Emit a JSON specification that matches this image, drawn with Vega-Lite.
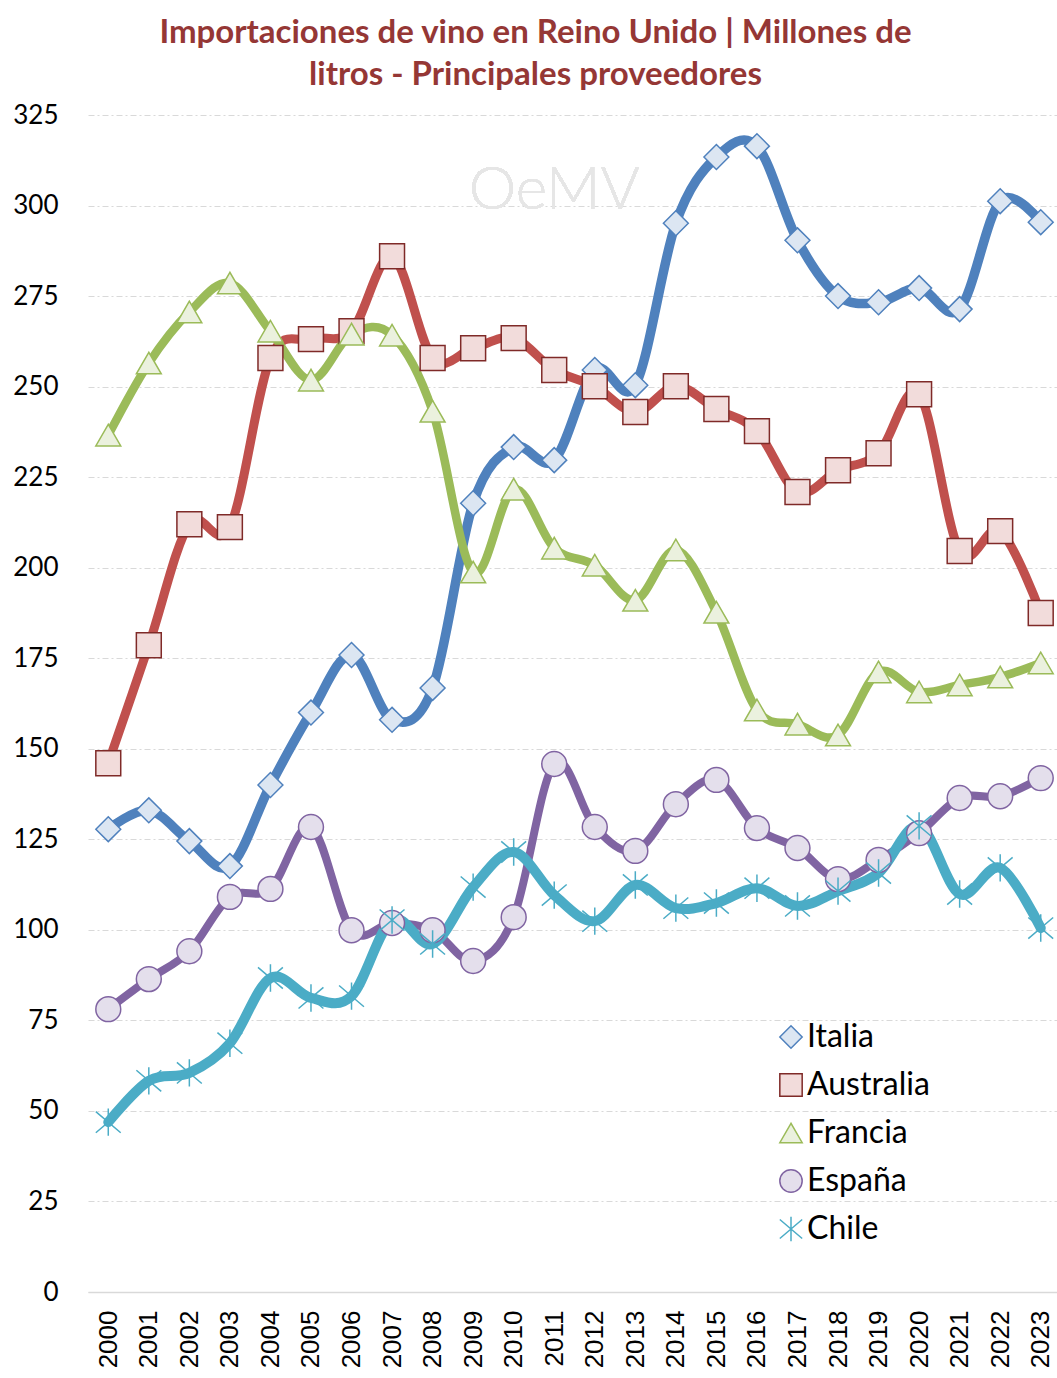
{
  "$schema": "https://vega.github.io/schema/vega-lite/v6.json",
  "autosize": "none",
  "width": 973,
  "height": 1177,
  "padding": {"left": 88, "top": 115, "right": 0, "bottom": 86},
  "background": "white",
  "title": {
    "text": ["Importaciones de vino en Reino Unido | Millones de", "litros - Principales proveedores"],
    "font": "Lato",
    "fontSize": 33,
    "fontWeight": "bold",
    "color": "#953735",
    "lineHeight": 42,
    "anchor": "middle",
    "frame": "group",
    "dx": -39,
    "offset": 10
  },
  "config": {
    "view": {"stroke": null},
    "font": "Lato"
  },
  "datasets": {
    "imp": [
      {"year": "2000", "country": "Italia", "value": 127.8},
      {"year": "2001", "country": "Italia", "value": 133},
      {"year": "2002", "country": "Italia", "value": 124.5},
      {"year": "2003", "country": "Italia", "value": 117.6},
      {"year": "2004", "country": "Italia", "value": 140},
      {"year": "2005", "country": "Italia", "value": 160},
      {"year": "2006", "country": "Italia", "value": 175.9},
      {"year": "2007", "country": "Italia", "value": 158},
      {"year": "2008", "country": "Italia", "value": 166.8},
      {"year": "2009", "country": "Italia", "value": 217.8},
      {"year": "2010", "country": "Italia", "value": 233.3},
      {"year": "2011", "country": "Italia", "value": 229.7},
      {"year": "2012", "country": "Italia", "value": 254.6},
      {"year": "2013", "country": "Italia", "value": 250.4},
      {"year": "2014", "country": "Italia", "value": 295.1},
      {"year": "2015", "country": "Italia", "value": 313.4},
      {"year": "2016", "country": "Italia", "value": 316.4},
      {"year": "2017", "country": "Italia", "value": 290.4},
      {"year": "2018", "country": "Italia", "value": 275},
      {"year": "2019", "country": "Italia", "value": 273.3},
      {"year": "2020", "country": "Italia", "value": 277.2},
      {"year": "2021", "country": "Italia", "value": 271.4},
      {"year": "2022", "country": "Italia", "value": 301.2},
      {"year": "2023", "country": "Italia", "value": 295.4},
      {"year": "2000", "country": "Australia", "value": 146},
      {"year": "2001", "country": "Australia", "value": 178.6},
      {"year": "2002", "country": "Australia", "value": 212},
      {"year": "2003", "country": "Australia", "value": 211.2},
      {"year": "2004", "country": "Australia", "value": 257.9},
      {"year": "2005", "country": "Australia", "value": 263.1},
      {"year": "2006", "country": "Australia", "value": 265.3},
      {"year": "2007", "country": "Australia", "value": 286},
      {"year": "2008", "country": "Australia", "value": 257.9},
      {"year": "2009", "country": "Australia", "value": 260.6},
      {"year": "2010", "country": "Australia", "value": 263.4},
      {"year": "2011", "country": "Australia", "value": 254.6},
      {"year": "2012", "country": "Australia", "value": 250.1},
      {"year": "2013", "country": "Australia", "value": 243},
      {"year": "2014", "country": "Australia", "value": 250.1},
      {"year": "2015", "country": "Australia", "value": 243.8},
      {"year": "2016", "country": "Australia", "value": 237.7},
      {"year": "2017", "country": "Australia", "value": 220.9},
      {"year": "2018", "country": "Australia", "value": 226.9},
      {"year": "2019", "country": "Australia", "value": 231.6},
      {"year": "2020", "country": "Australia", "value": 247.9},
      {"year": "2021", "country": "Australia", "value": 204.6},
      {"year": "2022", "country": "Australia", "value": 210.1},
      {"year": "2023", "country": "Australia", "value": 187.5},
      {"year": "2000", "country": "Francia", "value": 236.6},
      {"year": "2001", "country": "Francia", "value": 256.5},
      {"year": "2002", "country": "Francia", "value": 270.6},
      {"year": "2003", "country": "Francia", "value": 278.6},
      {"year": "2004", "country": "Francia", "value": 265.3},
      {"year": "2005", "country": "Francia", "value": 251.8},
      {"year": "2006", "country": "Francia", "value": 264.5},
      {"year": "2007", "country": "Francia", "value": 264.2},
      {"year": "2008", "country": "Francia", "value": 243.2},
      {"year": "2009", "country": "Francia", "value": 198.8},
      {"year": "2010", "country": "Francia", "value": 221.7},
      {"year": "2011", "country": "Francia", "value": 205.4},
      {"year": "2012", "country": "Francia", "value": 200.7},
      {"year": "2013", "country": "Francia", "value": 191},
      {"year": "2014", "country": "Francia", "value": 204.9},
      {"year": "2015", "country": "Francia", "value": 187.7},
      {"year": "2016", "country": "Francia", "value": 160.7},
      {"year": "2017", "country": "Francia", "value": 156.8},
      {"year": "2018", "country": "Francia", "value": 153.8},
      {"year": "2019", "country": "Francia", "value": 171.2},
      {"year": "2020", "country": "Francia", "value": 165.7},
      {"year": "2021", "country": "Francia", "value": 167.6},
      {"year": "2022", "country": "Francia", "value": 169.8},
      {"year": "2023", "country": "Francia", "value": 173.7},
      {"year": "2000", "country": "España", "value": 78.1},
      {"year": "2001", "country": "España", "value": 86.4},
      {"year": "2002", "country": "España", "value": 94.1},
      {"year": "2003", "country": "España", "value": 109.1},
      {"year": "2004", "country": "España", "value": 111.3},
      {"year": "2005", "country": "España", "value": 128.4},
      {"year": "2006", "country": "España", "value": 99.9},
      {"year": "2007", "country": "España", "value": 101.9},
      {"year": "2008", "country": "España", "value": 99.9},
      {"year": "2009", "country": "España", "value": 91.4},
      {"year": "2010", "country": "España", "value": 103.5},
      {"year": "2011", "country": "España", "value": 145.8},
      {"year": "2012", "country": "España", "value": 128.4},
      {"year": "2013", "country": "España", "value": 121.8},
      {"year": "2014", "country": "España", "value": 134.7},
      {"year": "2015", "country": "España", "value": 141.4},
      {"year": "2016", "country": "España", "value": 128.1},
      {"year": "2017", "country": "España", "value": 122.6},
      {"year": "2018", "country": "España", "value": 114},
      {"year": "2019", "country": "España", "value": 119.3},
      {"year": "2020", "country": "España", "value": 126.7},
      {"year": "2021", "country": "España", "value": 136.4},
      {"year": "2022", "country": "España", "value": 136.9},
      {"year": "2023", "country": "España", "value": 141.9},
      {"year": "2000", "country": "Chile", "value": 46.9},
      {"year": "2001", "country": "Chile", "value": 58.3},
      {"year": "2002", "country": "Chile", "value": 60.5},
      {"year": "2003", "country": "Chile", "value": 68.7},
      {"year": "2004", "country": "Chile", "value": 86.7},
      {"year": "2005", "country": "Chile", "value": 81.2},
      {"year": "2006", "country": "Chile", "value": 81.7},
      {"year": "2007", "country": "Chile", "value": 102.7},
      {"year": "2008", "country": "Chile", "value": 96.1},
      {"year": "2009", "country": "Chile", "value": 111.8},
      {"year": "2010", "country": "Chile", "value": 121.5},
      {"year": "2011", "country": "Chile", "value": 109.6},
      {"year": "2012", "country": "Chile", "value": 102.4},
      {"year": "2013", "country": "Chile", "value": 112.4},
      {"year": "2014", "country": "Chile", "value": 106},
      {"year": "2015", "country": "Chile", "value": 107.4},
      {"year": "2016", "country": "Chile", "value": 111.5},
      {"year": "2017", "country": "Chile", "value": 106.6},
      {"year": "2018", "country": "Chile", "value": 110.7},
      {"year": "2019", "country": "Chile", "value": 115.7},
      {"year": "2020", "country": "Chile", "value": 128.7},
      {"year": "2021", "country": "Chile", "value": 109.9},
      {"year": "2022", "country": "Chile", "value": 117.1},
      {"year": "2023", "country": "Chile", "value": 100.5}
    ]
  },
  "data": {"name": "imp"},
  "encoding": {
    "x": {
      "field": "year",
      "type": "ordinal",
      "scale": {"type": "point", "padding": 0.5},
      "axis": {
        "title": null,
        "labelAngle": -90,
        "labelAlign": "right",
        "labelBaseline": "middle",
        "labelFont": "Liberation Sans",
        "labelFontSize": 26,
        "labelColor": "black",
        "labelPadding": 18,
        "ticks": false,
        "domain": true,
        "domainColor": "#d9d9d9",
        "domainWidth": 1.5,
        "grid": false
      }
    },
    "y": {
      "field": "value",
      "type": "quantitative",
      "scale": {"domain": [0, 325], "nice": false, "zero": true},
      "axis": {
        "title": null,
        "values": [0, 25, 50, 75, 100, 125, 150, 175, 200, 225, 250, 275, 300, 325],
        "labelFont": "Lato",
        "labelFontSize": 26,
        "labelColor": "black",
        "labelPadding": 30,
        "ticks": false,
        "domain": false,
        "grid": true,
        "gridColor": "#d9d9d9",
        "gridWidth": 1,
        "gridDash": {"condition": {"test": "datum.value === 0", "value": []}, "value": [6, 3, 2, 3]}
      }
    }
  },
  "layer": [
    {
      "mark": {"type": "text", "text": "OeMV", "font": "Lato", "fontWeight": 300, "fontSize": 60, "color": "#e6e6e6", "align": "center", "baseline": "middle"},
      "encoding": {
        "x": {"datum": "2011"},
        "y": {"datum": 304}
      }
    },
    {
      "mark": {"type": "line", "interpolate": "cardinal", "strokeCap": "round", "strokeJoin": "round"},
      "encoding": {
        "detail": {"field": "country"},
        "color": {
          "field": "country",
          "type": "nominal",
          "scale": {"domain": ["Chile", "España", "Francia", "Australia", "Italia"], "range": ["#4bacc6", "#8064a2", "#9bbb59", "#c0504d", "#4f81bd"]},
          "legend": null
        },
        "strokeWidth": {
          "field": "country",
          "type": "nominal",
          "scale": {"domain": ["Chile", "Italia", "Australia", "Francia", "España"], "range": [10, 8, 8, 8, 8]},
          "legend": null
        }
      }
    },
    {
      "mark": {"type": "point", "filled": false, "size": 620, "strokeWidth": 1.5, "opacity": 1},
      "encoding": {
        "shape": {
          "field": "country",
          "type": "nominal",
          "scale": {"domain": ["Italia", "Australia", "Francia", "España", "Chile"], "range": ["diamond", "square", "triangle-up", "circle", "M-1,-0.85L1,0.85M-1,0.85L1,-0.85M0,-1.1L0,1.1"]},
          "legend": {
            "title": null,
            "orient": "none",
            "legendX": 687,
            "legendY": 906,
            "labelFont": "Lato",
            "labelFontSize": 32,
            "labelColor": "black",
            "labelOffset": 0,
            "symbolSize": 500,
            "symbolStrokeWidth": 1.5,
            "rowPadding": 16
          }
        },
        "fill": {
          "field": "country",
          "type": "nominal",
          "scale": {"domain": ["Italia", "Australia", "Francia", "España", "Chile"], "range": ["#dce6f2", "#f2dcdb", "#ebf1de", "#e4dfec", "transparent"]}
        },
        "stroke": {
          "field": "country",
          "type": "nominal",
          "scale": {"domain": ["Italia", "Australia", "Francia", "España", "Chile"], "range": ["#4f81bd", "#7f2a28", "#9bbb59", "#8064a2", "#4bacc6"]}
        }
      }
    }
  ]
}
